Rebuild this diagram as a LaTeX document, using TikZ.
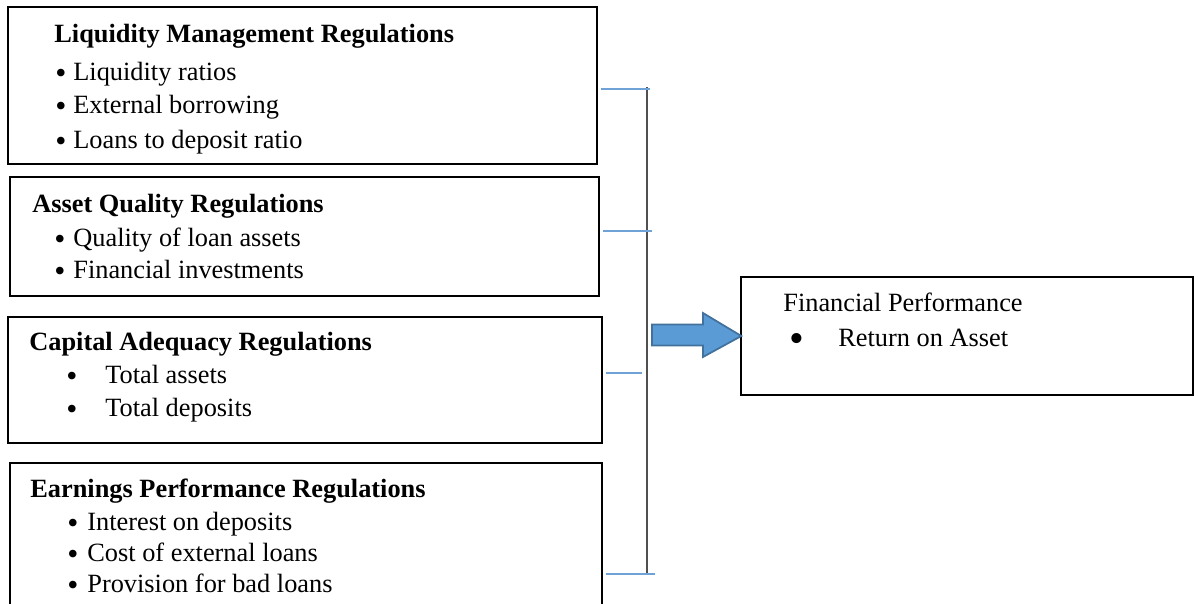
\documentclass[tikz,border=0pt]{standalone}
\usepackage{fontspec}
\setmainfont{Liberation Serif}
\usetikzlibrary{calc}
\usetikzlibrary{positioning}

\definecolor{linkblue}{HTML}{6FA3D8}
\definecolor{arrowfill}{HTML}{5B9BD5}
\definecolor{arrowline}{HTML}{41719C}
\definecolor{bargray}{HTML}{505050}

\newcommand{\dotmark}{\raisebox{-1.2pt}{\fontsize{18}{18}\selectfont\textbullet}}
\newcommand{\bigdotmark}{\raisebox{-3pt}{\fontsize{24}{24}\selectfont\textbullet}}

\begin{document}
\begin{tikzpicture}[x=0.02cm, y=-0.02cm]
        % Define styles for shapes
        \tikzstyle{box} = [draw, line width=1.1pt, inner sep=0pt]
        \tikzstyle{head} = [anchor=base west, inner sep=0pt, font=\fontsize{15}{18}\selectfont\bfseries]
        \tikzstyle{item} = [anchor=base west, inner sep=0pt, font=\fontsize{15}{18}\selectfont]
        \tikzstyle{tick} = [draw=linkblue, line width=0.9pt]
        \clip (0,0) rectangle (1198,604);
        \useasboundingbox (0,0) rectangle (1198,604);

        % Draw shapes
        \node[box, minimum width=11.78cm, minimum height=3.14cm] (box1) at (302.5,85.5) {};
        \node[box, minimum width=11.78cm, minimum height=2.38cm] (box2) at (304.5,236.5) {};
        \node[box, minimum width=11.88cm, minimum height=2.52cm] (box3) at (305,380) {};
        \node[box, minimum width=11.84cm, minimum height=3.54cm] (box4) at (306,551.5) {};
        \node[box, minimum width=9.06cm, minimum height=2.36cm] (perf) at (967,336) {};

        % Liquidity box
        \node[head] (liqhead) at (54,43) {Liquidity Management Regulations};
        \node[item] (liqdot1) at (55,81) {\dotmark};
        \node[item] (liqtxt1) at (73,81) {Liquidity ratios};
        \node[item] (liqdot2) at (55,114) {\dotmark};
        \node[item] (liqtxt2) at (73,114) {External borrowing};
        \node[item] (liqdot3) at (55,149) {\dotmark};
        \node[item] (liqtxt3) at (73,149) {Loans to deposit ratio};

        % Asset quality box
        \node[head] (asshead) at (32,213) {Asset Quality Regulations};
        \node[item] (assdot1) at (54,247) {\dotmark};
        \node[item] (asstxt1) at (73,247) {Quality of loan assets};
        \node[item] (assdot2) at (54,279) {\dotmark};
        \node[item] (asstxt2) at (73,279) {Financial investments};

        % Capital adequacy box
        \node[head] (caphead) at (29,351) {Capital Adequacy Regulations};
        \node[item] (capdot1) at (66,384) {\dotmark};
        \node[item] (captxt1) at (105,384) {Total assets};
        \node[item] (capdot2) at (66,417) {\dotmark};
        \node[item] (captxt2) at (105,417) {Total deposits};

        % Earnings box
        \node[head] (earhead) at (30,498) {Earnings Performance Regulations};
        \node[item] (eardot1) at (67,531) {\dotmark};
        \node[item] (eartxt1) at (87,531) {Interest on deposits};
        \node[item] (eardot2) at (67,562) {\dotmark};
        \node[item] (eartxt2) at (87,562) {Cost of external loans};
        \node[item] (eardot3) at (67,593) {\dotmark};
        \node[item] (eartxt3) at (87,593) {Provision for bad loans};

        % Financial performance box
        \node[item] (perfhead) at (783,312) {Financial Performance};
        \node[item] (perfdot) at (789,347) {\bigdotmark};
        \node[item] (perftxt) at (838,347) {Return on Asset};

        % bracket joining the four boxes
        \coordinate (bartop) at (647,87);
        \coordinate (barbot) at (647,573);
        \coordinate (join1) at (650,89);
        \coordinate (join2) at (652,231);
        \coordinate (join3) at (642,373);
        \coordinate (join4) at (655,574);
        \draw[bargray, line width=1.1pt] (bartop) -- (barbot);
        \draw[tick, shorten <=2pt] (box1.east |- join1) -- (join1);
        \draw[tick, shorten <=2pt] (box2.east |- join2) -- (join2);
        \draw[tick, line width=0.6pt, shorten <=2pt] (box3.east |- join3) -- (join3);
        \draw[tick, line width=1.1pt, shorten <=2pt] (box4.east |- join4) -- (join4);

        % block arrow into the performance box
        \coordinate (arrowtail) at (652,335);
        \draw[fill=arrowfill, draw=arrowline, line width=1pt, line join=miter]
            ($(arrowtail)+(0,-10.5)$) -- ($(arrowtail)+(51,-10.5)$) -- ($(arrowtail)+(51,-22)$)
            -- ([xshift=1pt]perf.west) -- ($(arrowtail)+(51,22)$) -- ($(arrowtail)+(51,10.5)$)
            -- ($(arrowtail)+(0,10.5)$) -- cycle;
\end{tikzpicture}
\end{document}
